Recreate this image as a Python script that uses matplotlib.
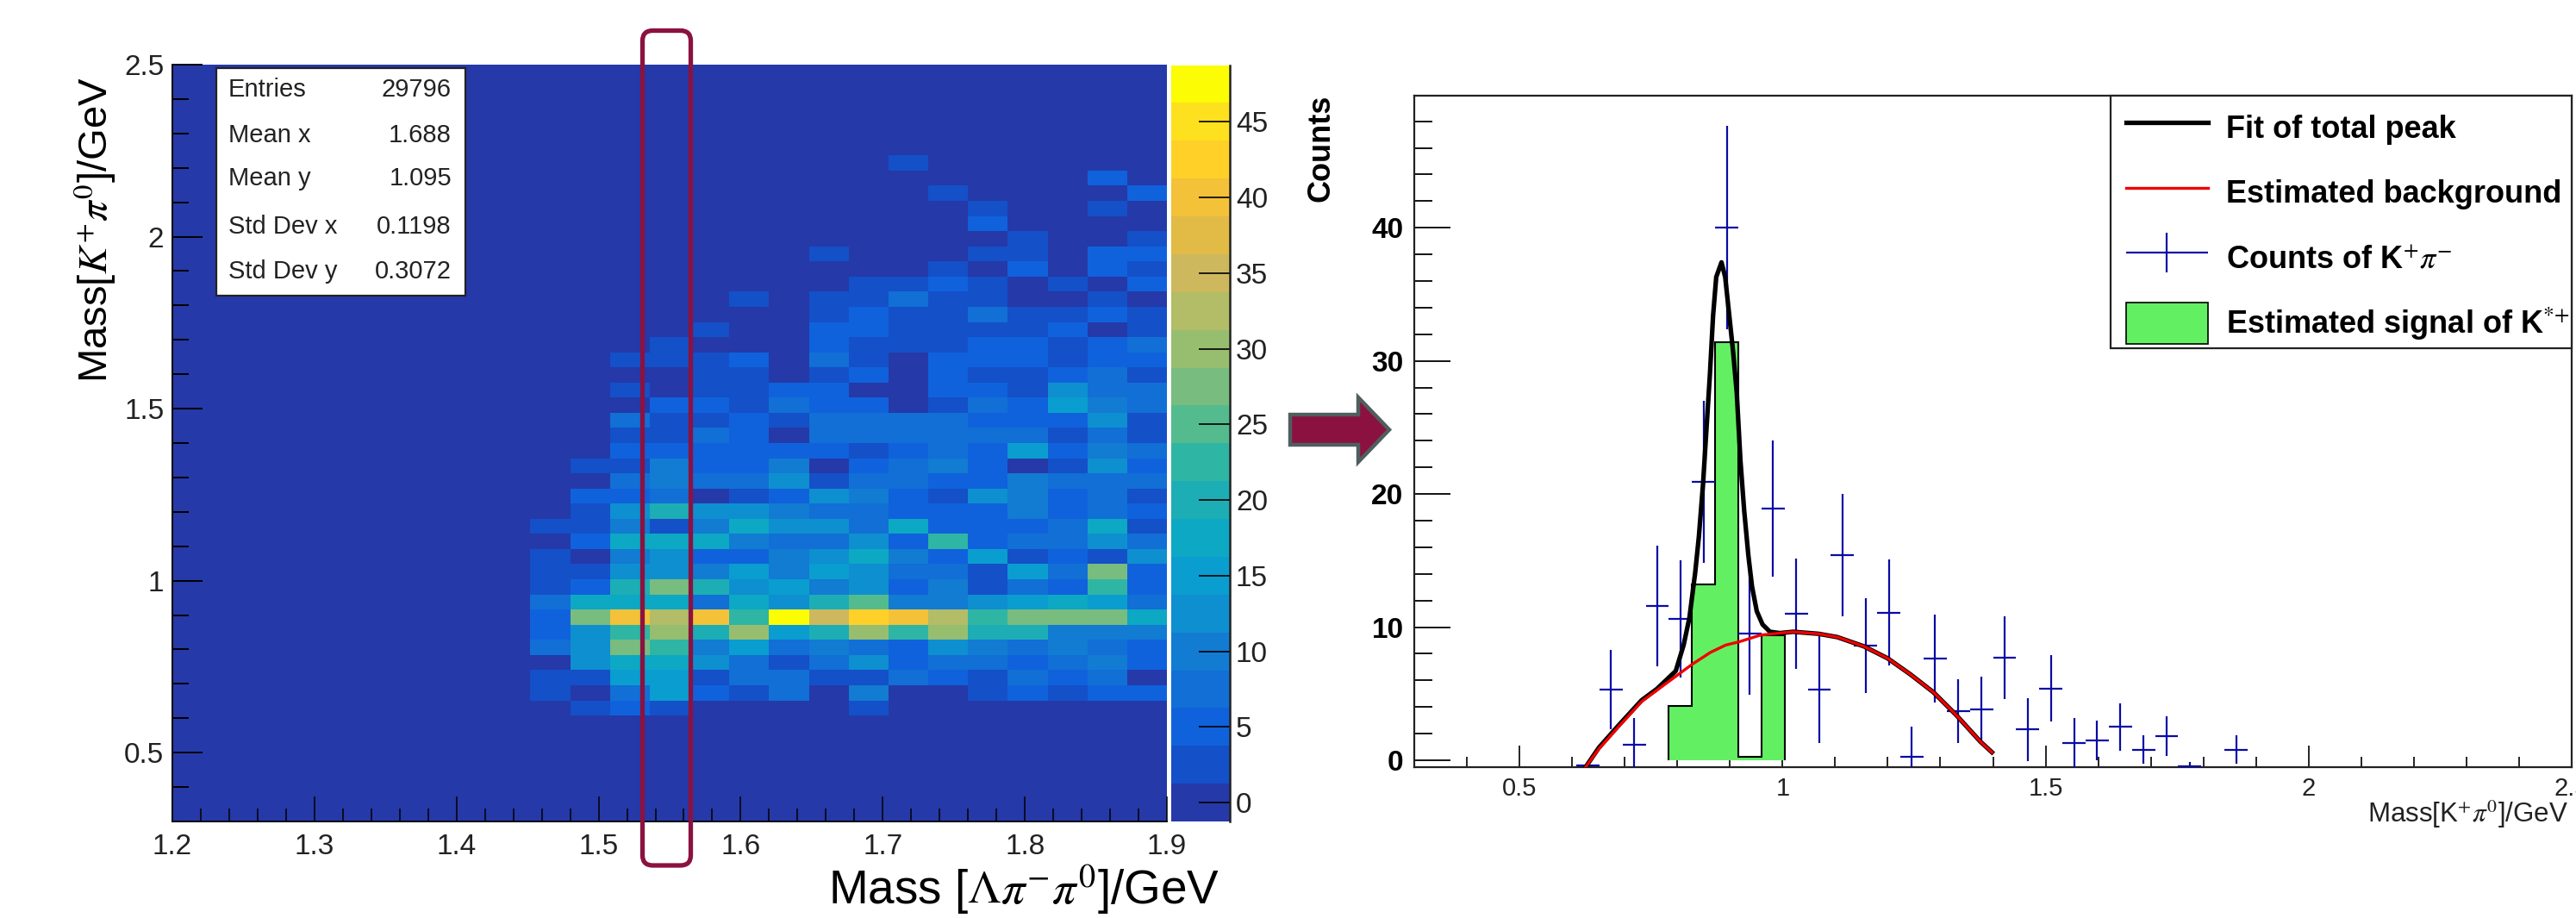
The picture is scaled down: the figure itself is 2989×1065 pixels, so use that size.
import numpy as np
import matplotlib
matplotlib.use("Agg")
import matplotlib.pyplot as plt
from matplotlib.colors import ListedColormap, BoundaryNorm
from matplotlib.container import ErrorbarContainer
from matplotlib.legend_handler import HandlerErrorbar
from matplotlib.lines import Line2D
from matplotlib.patches import FancyBboxPatch, Patch, Polygon, Rectangle
from matplotlib.ticker import MultipleLocator

plt.rcParams['font.family'] = ['Liberation Sans', 'DejaVu Sans']
plt.rcParams['mathtext.fontset'] = 'stix'

W, H = 2989, 1065

# colour levels of the 2D histogram
palette = ['#2539A8', '#1450C8', '#0F62DC', '#116FD6', '#127BD2', '#0E8FD0', '#0A9DCF',
           '#0CA8C4', '#1CAEB4', '#2FB5A4', '#54BB8F', '#79BC7F', '#97BE6F', '#B3BC66',
           '#CDB85D', '#E1BB45', '#F3C238', '#FFD027', '#FDE01E', '#FCFC04']
z_step = 2.5
cbar_ticks = [0, 5, 10, 15, 20, 25, 30, 35, 40, 45]

# 2D histogram: colour level per cell, rows bottom-up from row 7, columns from bin 9 of 25
first_row, first_col = 7, 9
z_levels = [
    [0, 1, 2, 1, 0, 0, 0, 0, 1, 0, 0, 0, 0, 0, 0, 0],
    [1, 0, 3, 6, 2, 1, 3, 0, 4, 0, 0, 1, 2, 1, 2, 2],
    [1, 1, 6, 6, 1, 3, 3, 1, 1, 3, 2, 1, 3, 2, 3, 0],
    [0, 5, 7, 7, 5, 3, 1, 3, 5, 2, 3, 3, 2, 3, 4, 2],
    [3, 5, 11, 9, 4, 6, 3, 4, 3, 2, 5, 4, 3, 4, 3, 2],
    [2, 5, 9, 12, 8, 12, 6, 8, 12, 9, 12, 8, 8, 4, 4, 4],
    [2, 11, 16, 13, 16, 9, 19, 14, 17, 16, 13, 9, 11, 11, 11, 7],
    [3, 7, 7, 7, 3, 7, 5, 8, 10, 4, 4, 5, 6, 7, 6, 3],
    [1, 2, 8, 11, 8, 5, 6, 4, 5, 2, 4, 1, 3, 2, 9, 2],
    [1, 1, 5, 5, 4, 6, 4, 6, 5, 3, 3, 1, 6, 3, 11, 2],
    [1, 0, 4, 5, 2, 2, 4, 5, 7, 4, 2, 6, 1, 2, 1, 5],
    [0, 2, 7, 7, 7, 4, 3, 3, 5, 2, 9, 2, 3, 3, 5, 3],
    [1, 1, 4, 1, 4, 7, 5, 5, 3, 7, 2, 2, 2, 3, 7, 1],
    [0, 1, 5, 8, 5, 5, 4, 3, 3, 2, 2, 2, 4, 2, 3, 2],
    [0, 2, 2, 3, 0, 1, 2, 5, 4, 2, 1, 5, 4, 2, 3, 1],
    [0, 0, 3, 4, 3, 3, 5, 1, 3, 3, 2, 2, 4, 3, 3, 3],
    [0, 1, 1, 4, 2, 2, 4, 0, 2, 3, 4, 2, 0, 1, 5, 2],
    [0, 0, 2, 2, 2, 2, 2, 2, 1, 2, 3, 2, 6, 2, 4, 3],
    [0, 0, 1, 1, 3, 2, 0, 3, 3, 3, 3, 3, 3, 1, 3, 1],
    [0, 0, 3, 1, 1, 2, 1, 3, 3, 3, 3, 2, 2, 2, 5, 1],
    [0, 0, 0, 2, 2, 1, 3, 2, 2, 0, 1, 3, 2, 6, 4, 3],
    [0, 0, 1, 0, 1, 1, 2, 2, 0, 0, 2, 2, 1, 5, 3, 3],
    [0, 0, 0, 0, 1, 1, 0, 1, 2, 0, 2, 1, 1, 2, 3, 1],
    [0, 0, 1, 1, 1, 2, 0, 3, 1, 0, 2, 2, 2, 1, 2, 2],
    [0, 0, 0, 1, 0, 0, 0, 2, 1, 1, 1, 2, 2, 1, 2, 3],
    [0, 0, 0, 0, 1, 0, 0, 2, 2, 1, 1, 1, 1, 2, 0, 1],
    [0, 0, 0, 0, 0, 0, 0, 1, 2, 1, 1, 3, 1, 1, 2, 1],
    [0, 0, 0, 0, 0, 1, 0, 1, 1, 3, 1, 1, 0, 0, 1, 0],
    [0, 0, 0, 0, 0, 0, 0, 0, 1, 1, 2, 1, 0, 1, 0, 2],
    [0, 0, 0, 0, 0, 0, 0, 0, 0, 0, 1, 0, 2, 0, 2, 1],
    [0, 0, 0, 0, 0, 0, 0, 1, 0, 0, 0, 1, 1, 0, 2, 2],
    [0, 0, 0, 0, 0, 0, 0, 0, 0, 0, 0, 0, 1, 0, 0, 1],
    [0, 0, 0, 0, 0, 0, 0, 0, 0, 0, 0, 2, 0, 0, 0, 0],
    [0, 0, 0, 0, 0, 0, 0, 0, 0, 0, 0, 1, 0, 0, 1, 0],
    [0, 0, 0, 0, 0, 0, 0, 0, 0, 0, 1, 0, 0, 0, 0, 2],
    [0, 0, 0, 0, 0, 0, 0, 0, 0, 0, 0, 0, 0, 0, 2, 0],
    [0, 0, 0, 0, 0, 0, 0, 0, 0, 1, 0, 0, 0, 0, 0, 0],
]

left_xticks = [1.2, 1.3, 1.4, 1.5, 1.6, 1.7, 1.8, 1.9]
left_yticks = [0.5, 1, 1.5, 2, 2.5]
right_xticks = [0.5, 1, 1.5, 2, 2.5]
right_yticks = [0, 10, 20, 30, 40]

stat_names = ['Entries', 'Mean x', 'Mean y', 'Std Dev x', 'Std Dev y']
stat_values = ['29796', '1.688', '1.095', '0.1198', '0.3072']

# projected counts with errors
count_x = [0.63, 0.674, 0.718, 0.762, 0.806, 0.85, 0.894, 0.938, 0.982, 1.026, 1.07, 1.114,
           1.158, 1.202, 1.246, 1.29, 1.334, 1.378, 1.422, 1.466, 1.51, 1.554, 1.598, 1.642,
           1.686, 1.73, 1.774, 1.862]
count_y = [-0.4, 5.3, 1.15, 11.6, 10.6, 20.9, 40.0, 9.5, 18.9, 11.0, 5.3, 15.4,
           8.6, 11.1, 0.25, 7.65, 3.7, 3.8, 7.7, 2.3, 5.4, 1.3, 1.5, 2.5,
           0.8, 1.8, -0.45, 0.8]
count_err = [0.1, 3.0, 2.05, 4.55, 4.4, 6.1, 7.65, 4.6, 5.1, 4.15, 4.0, 4.6,
             3.55, 4.0, 2.3, 3.3, 2.4, 2.5, 3.1, 2.35, 2.5, 1.9, 1.5, 1.8,
             1.05, 1.5, 0.3, 1.05]

# estimated signal histogram
signal_edges = [0.784, 0.828, 0.872, 0.916, 0.96, 1.004]
signal_heights = [4.05, 13.2, 31.4, 0.25, 9.4]

# curves read point by point
bkg_x = [0.626, 0.651, 0.688, 0.732, 0.761, 0.797, 0.828, 0.863, 0.892, 0.918, 0.958, 0.995,
         1.02, 1.068, 1.104, 1.155, 1.2, 1.243, 1.287, 1.33, 1.376, 1.398]
bkg_y = [-0.5, 0.85, 2.5, 4.4, 5.25, 6.3, 7.2, 8.1, 8.65, 8.9, 9.4, 9.55,
         9.65, 9.5, 9.25, 8.55, 7.65, 6.45, 5.1, 3.4, 1.4, 0.6]
fit_x = [0.626, 0.651, 0.688, 0.732, 0.761, 0.797, 0.812, 0.823, 0.834, 0.841, 0.849, 0.856,
         0.862, 0.868, 0.874, 0.884, 0.891, 0.898, 0.906, 0.913, 0.92, 0.927, 0.935, 0.942,
         0.951, 0.962, 0.976, 0.995, 1.02, 1.068, 1.104, 1.155, 1.2, 1.243, 1.287, 1.33,
         1.376, 1.398]
fit_y = [-0.5, 0.95, 2.6, 4.5, 5.35, 6.7, 8.65, 10.7, 14.1, 16.8, 20.8, 25.25,
         29.0, 33.4, 36.3, 37.4, 36.3, 33.7, 30.7, 27.6, 22.5, 18.8, 15.4, 13.05,
         11.2, 10.2, 9.65, 9.55, 9.65, 9.5, 9.25, 8.55, 7.65, 6.45, 5.1, 3.4,
         1.4, 0.6]


def axes_px(fig, x0, y0, x1, y1):
    # axes from pixel box, y measured from the top
    return fig.add_axes([x0 / W, 1 - y1 / H, (x1 - x0) / W, (y1 - y0) / H])


def px(x, y):
    return (x / W, 1 - y / H)


fig = plt.figure(figsize=(W / 100, H / 100), dpi=100, facecolor='white')

# ---- left panel ----
ax = axes_px(fig, 200, 75, 1354, 953)
x_edges = np.linspace(1.2, 1.9, 26)
y_edges = np.linspace(0.3, 2.5, 51)
z = np.zeros((50, 25))
z[first_row:first_row + len(z_levels), first_col:] = np.array(z_levels) * z_step
cmap = ListedColormap(palette)
norm = BoundaryNorm(np.arange(-1.25, 49, z_step), cmap.N)
mesh = ax.pcolormesh(x_edges, y_edges, z, cmap=cmap, norm=norm, linewidth=0)

ax.set_xticks(left_xticks)
ax.set_xticklabels([f'{v:g}' for v in left_xticks])
ax.set_yticks(left_yticks)
ax.set_yticklabels([f'{v:g}' for v in left_yticks])
ax.xaxis.set_minor_locator(MultipleLocator(0.02))
ax.yaxis.set_minor_locator(MultipleLocator(0.1))
ax.set_xlim(1.2, 1.9)
ax.set_ylim(0.3, 2.5)
ax.tick_params(axis='x', which='major', direction='in', length=21, width=1.1, labelsize=24, pad=10, labelcolor='#222222')
ax.tick_params(axis='x', which='minor', direction='in', length=11, width=1.1)
ax.tick_params(axis='y', which='major', direction='in', length=25, width=1.4, labelsize=24, pad=7, labelcolor='#222222')
ax.tick_params(axis='y', which='minor', direction='in', length=14, width=1.4)
for s in ['top', 'right']:
    ax.spines[s].set_visible(False)
for s in ['left', 'bottom']:
    ax.spines[s].set_linewidth(1.4)

fig.text(*px(961, 1033), r'Mass [$\mathit{\Lambda}\pi^{-}\pi^{0}$]/GeV', fontsize=39.5, ha='left', va='center')
fig.text(*px(110, 266), r'Mass[$K^{+}\pi^{0}$]/GeV', fontsize=34, rotation=90, ha='center', va='center')

# stats box
fig.add_artist(Rectangle(px(251, 343), 289 / W, 264 / H, transform=fig.transFigure,
                         facecolor='white', edgecolor='#222222', linewidth=1.6, zorder=3))
stat_rows = [104, 157, 207, 263, 315]
for name, value, yy in zip(stat_names, stat_values, stat_rows):
    fig.text(*px(265, yy), name, fontsize=21, ha='left', va='center', color='#222222', zorder=4)
    fig.text(*px(524, yy), value, fontsize=21, ha='right', va='center', color='#222222', zorder=4)

# colour bar
cax = axes_px(fig, 1359, 75.5, 1427, 953)
cb = fig.colorbar(mesh, cax=cax, ticks=cbar_ticks, spacing='proportional', drawedges=False)
cb.outline.set_visible(False)
cb.minorticks_off()
cax.tick_params(direction='in', length=26, width=1.2, labelsize=24, pad=5, labelcolor='#222222', right=True)
cax.add_line(Line2D([1, 1], [0, 1], transform=cax.transAxes, color='#222222', lw=1.8, clip_on=False))

# ---- right panel ----
ax2 = axes_px(fig, 1641, 110.5, 2984, 890)
ax2.stairs(signal_heights, signal_edges, baseline=0, fill=True, facecolor='#62F062', edgecolor='none', zorder=2)
ax2.stairs(signal_heights, signal_edges, baseline=0, fill=False, edgecolor='black', linewidth=1.5, zorder=2.5)
err = ax2.errorbar(count_x, count_y, xerr=0.022, yerr=count_err, fmt='none', ecolor='#0A0AA5', elinewidth=1.6, capsize=0, zorder=3)
fit_line, = ax2.plot(fit_x, fit_y, color='black', lw=3.8, zorder=4)
bkg_line, = ax2.plot(bkg_x, bkg_y, color='#F00000', lw=2.4, zorder=5)

ax2.set_xticks(right_xticks)
ax2.set_xticklabels([f'{v:g}' for v in right_xticks])
ax2.set_yticks(right_yticks)
ax2.set_yticklabels([str(v) for v in right_yticks], fontweight='bold')
ax2.xaxis.set_minor_locator(MultipleLocator(0.1))
ax2.yaxis.set_minor_locator(MultipleLocator(2))
ax2.set_xlim(0.3, 2.5)
ax2.set_ylim(-0.52, 49.95)
ax2.tick_params(axis='x', which='major', direction='in', length=18, width=1.2, labelsize=21, pad=8, labelcolor='#222222')
ax2.tick_params(axis='x', which='minor', direction='in', length=9, width=1.2)
ax2.tick_params(axis='y', which='major', direction='in', length=30, width=1.3, labelsize=24, pad=9)
ax2.tick_params(axis='y', which='minor', direction='in', length=15, width=1.3)
for s in ax2.spines.values():
    s.set_linewidth(1.6)
    s.set_color('#222222')

fig.text(*px(2980, 945), r'Mass[K$^{+}\pi^{0}$]/GeV', fontsize=22.5, ha='right', va='center', color='#222222')
fig.text(*px(1533, 172), 'Counts', fontsize=26, fontweight='bold', rotation=90, ha='center', va='center')

# legend frame drawn apart so the box can sit where the reference has it
ax2.add_patch(Rectangle(px(2448.6, 404), 535 / W, 293.3 / H, transform=fig.transFigure, clip_on=False,
                        facecolor='white', edgecolor='#222222', linewidth=1.6, zorder=5.5))
handles = [fit_line, bkg_line, err, Patch(facecolor='#62F062', edgecolor='black', linewidth=1.2)]
labels = ['Fit of total peak', 'Estimated background', r'Counts of K$^{+}\pi^{-}$', r'Estimated signal of K$^{{*}{+}}$']
leg = ax2.legend(handles, labels, loc='upper left', bbox_to_anchor=px(2466.7, 124), bbox_transform=fig.transFigure,
                 borderaxespad=0, borderpad=0, frameon=False, prop={'size': 26, 'weight': 'bold'},
                 handlelength=2.64, handleheight=1.65, handletextpad=0.58, labelspacing=0.78,
                 handler_map={ErrorbarContainer: HandlerErrorbar(xerr_size=1.32, yerr_size=0.64, numpoints=1)})
leg.set_zorder(6)

# ---- annotations ----
fig.add_artist(FancyBboxPatch(px(745.5, 1004), 56 / W, 968.5 / H, transform=fig.transFigure, mutation_aspect=W / H,
                              boxstyle='round,pad=0,rounding_size=0.004', facecolor='none', edgecolor='#8B1240', linewidth=3.8, zorder=5))
arrow_x = [1497, 1576, 1576, 1612, 1576, 1576, 1497]
arrow_y = [481, 481, 461, 498.5, 536, 516, 516]
fig.add_artist(Polygon([px(a, b) for a, b in zip(arrow_x, arrow_y)], closed=True, transform=fig.transFigure,
                       facecolor='#8B1240', edgecolor='#4F5E5E', linewidth=3.2, zorder=5))

fig.savefig('out.png', dpi=100)
